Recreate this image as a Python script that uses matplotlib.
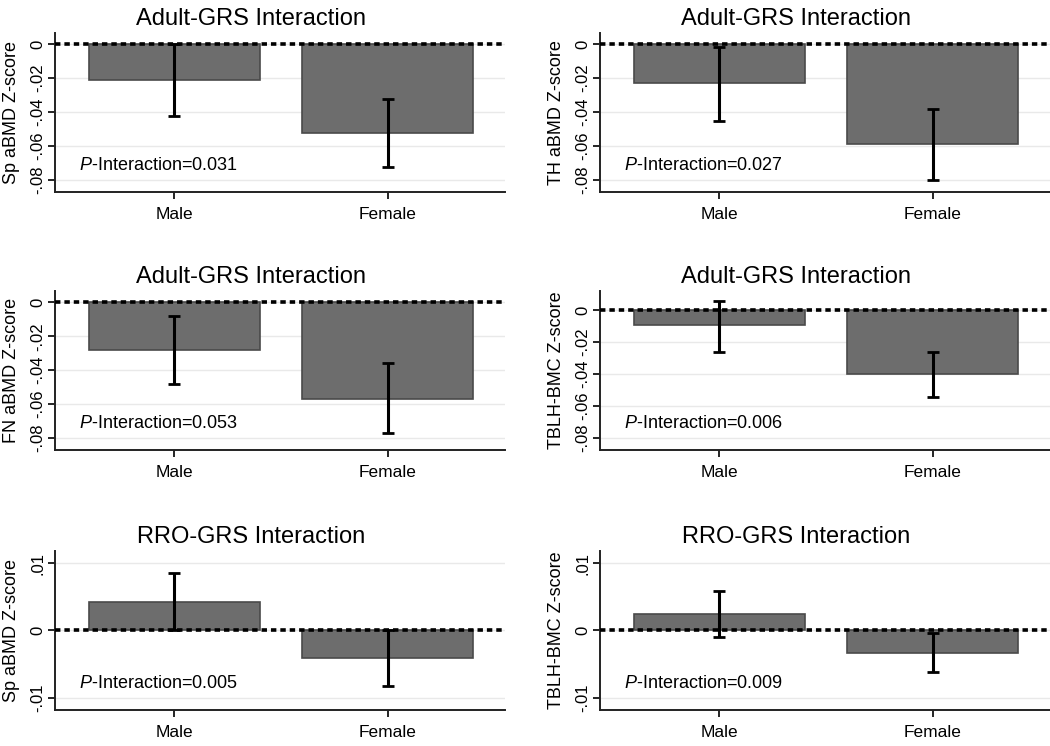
import matplotlib
matplotlib.use('Agg')
import matplotlib.pyplot as plt
import numpy as np

plt.rcParams['font.family'] = ['Liberation Sans', 'DejaVu Sans']
plt.rcParams['mathtext.fontset'] = 'custom'
plt.rcParams['mathtext.it'] = 'Liberation Sans:italic'
plt.rcParams['mathtext.rm'] = 'Liberation Sans'

groups = ['Male', 'Female']
titles = ['Adult-GRS Interaction', 'Adult-GRS Interaction',
          'Adult-GRS Interaction', 'Adult-GRS Interaction',
          'RRO-GRS Interaction', 'RRO-GRS Interaction']
ylabels = ['Sp aBMD Z-score', 'TH aBMD Z-score', 'FN aBMD Z-score',
           'TBLH-BMC Z-score', 'Sp aBMD Z-score', 'TBLH-BMC Z-score']
male = [-0.021, -0.023, -0.028, -0.0095, 0.0042, 0.0024]
male_lo = [-0.042, -0.045, -0.048, -0.026, 0.0, -0.0009]
male_hi = [0.0, -0.002, -0.008, 0.0057, 0.0085, 0.0058]
female = [-0.052, -0.059, -0.057, -0.040, -0.0041, -0.0033]
female_lo = [-0.072, -0.080, -0.077, -0.0546, -0.0082, -0.0062]
female_hi = [-0.032, -0.038, -0.036, -0.026, 0.0, -0.0003]
pvals = ['0.031', '0.027', '0.053', '0.006', '0.005', '0.009']

adult_ticks = [-0.08, -0.06, -0.04, -0.02, 0]
adult_labels = ['-.08', '-.06', '-.04', '-.02', '0']
rro_ticks = [-0.01, 0, 0.01]
rro_labels = ['-.01', '0', '.01']
ylims = [(-0.087, 0.0065), (-0.087, 0.0065), (-0.087, 0.0066),
         (-0.0876, 0.012), (-0.0118, 0.0118), (-0.0118, 0.0118)]

fig = plt.figure(figsize=(10.5, 7.46), dpi=100)

lefts = [0.0524, 0.5714]
bottoms = [0.7426, 0.3968, 0.0483]
w, h = 0.4286, 0.2131

x = np.arange(len(groups))
for i in range(6):
    row, col = i // 2, i % 2
    ax = fig.add_axes([lefts[col], bottoms[row], w, h])
    vals = [male[i], female[i]]
    lo = [male[i] - male_lo[i], female[i] - female_lo[i]]
    hi = [male_hi[i] - male[i], female_hi[i] - female[i]]
    ax.bar(x, vals, width=0.8, color='#6d6d6d', edgecolor='#4a4a4a',
           linewidth=1.2, zorder=2)
    ax.axhline(0, color='black', lw=2.6, ls=(0, (1.5, 1.1)), zorder=3)
    ax.errorbar(x, vals, yerr=[lo, hi], fmt='none', ecolor='black',
                elinewidth=2.2, capsize=4, capthick=2, zorder=4)

    if i < 4:
        ax.set_yticks(adult_ticks)
        ax.set_yticklabels(adult_labels, rotation=90, va='center')
    else:
        ax.set_yticks(rro_ticks)
        ax.set_yticklabels(rro_labels, rotation=90, va='center')
    ax.yaxis.grid(True, color='#e9e9e9', lw=1)
    ax.set_axisbelow(True)
    ax.set_ylim(*ylims[i])
    ax.set_xlim(-0.56, 1.55)
    ax.set_xticks(x)
    ax.set_xticklabels(groups, fontsize=12.5)
    ax.tick_params(axis='y', labelsize=12, length=5, width=1.2, pad=2)
    ax.tick_params(axis='x', length=5, width=1.2, pad=6)

    for s in ['top', 'right']:
        ax.spines[s].set_visible(False)
    for s in ['left', 'bottom']:
        ax.spines[s].set_linewidth(1.4)
        ax.spines[s].set_color('#222222')

    ax.set_ylabel(ylabels[i], fontsize=13)
    ax.yaxis.set_label_coords(-0.077, 0.5)
    ax.set_title(titles[i], fontsize=17, x=0.435, pad=6)
    ax.text(0.053, 0.165, r'$\it{P}$-Interaction=' + pvals[i],
            transform=ax.transAxes, fontsize=13, va='center', ha='left')

fig.savefig('out.png', dpi=100)
